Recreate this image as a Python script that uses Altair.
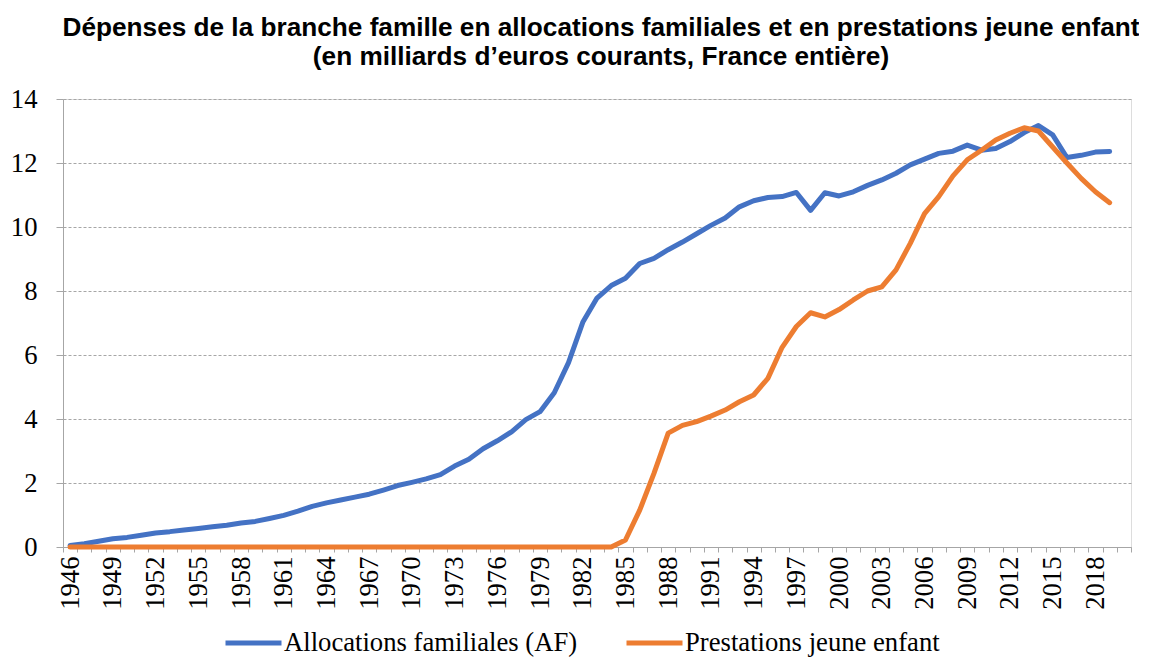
import altair as alt
import pandas as pd

years = list(range(1946, 2020))

af = [0.05, 0.10, 0.18, 0.26, 0.30, 0.37, 0.44, 0.48, 0.53, 0.58,
      0.63, 0.68, 0.75, 0.80, 0.89, 0.99, 1.12, 1.27, 1.38, 1.47,
      1.56, 1.65, 1.78, 1.92, 2.02, 2.13, 2.26, 2.53, 2.74, 3.07,
      3.32, 3.60, 3.98, 4.23, 4.82, 5.76, 7.02, 7.78, 8.17, 8.40,
      8.86, 9.02, 9.29, 9.53, 9.79, 10.05, 10.28, 10.63, 10.82, 10.92,
      10.95, 11.08, 10.52, 11.07, 10.97, 11.10, 11.30, 11.47, 11.68, 11.94,
      12.12, 12.30, 12.37, 12.56, 12.40, 12.45, 12.67, 12.95, 13.17, 12.88,
      12.17, 12.24, 12.34, 12.36]

pje = [0.0] * 39 + [
    0.22, 1.15, 2.30, 3.56, 3.80, 3.92, 4.09, 4.28, 4.54, 4.75,
    5.27, 6.24, 6.89, 7.32, 7.19, 7.42, 7.72, 8.00, 8.13, 8.66,
    9.49, 10.42, 10.95, 11.60, 12.10, 12.40, 12.72, 12.93, 13.10, 13.00,
    12.50, 12.00, 11.52, 11.10, 10.76]

series_names = ["Allocations familiales (AF)", "Prestations jeune enfant"]
series_colors = ["#4472C4", "#ED7D31"]
y_ticks = [0, 2, 4, 6, 8, 10, 12, 14]

title_lines = [
    "Dépenses de la branche famille en allocations familiales et en prestations jeune enfant",
    "(en milliards d\u2019euros courants, France entière)",
]

rows = []
for name, vals in zip(series_names, [af, pje]):
    for yr, v in zip(years, vals):
        rows.append({"year": yr, "value": v, "series": name})
df = pd.DataFrame(rows)

W, H = 1068, 448
x_min = years[0] - 0.5
x_max = years[-1] + 1.5
n_cat = int(x_max - x_min)
band = W / n_cat
boundaries = [y - 0.5 for y in years] + [years[-1] + 0.5, years[-1] + 1.5]

label_expr = ("((datum.value + 0.5 - %d) %% 3 == 0) && datum.value < %d "
              "? '' + (datum.value + 0.5) : ''") % (years[0], years[-1])

axis_gray = "#A6A6A6"

chart = alt.Chart(df).mark_line(
    strokeWidth=5, strokeJoin="round", strokeCap="round"
).encode(
    x=alt.X(
        "year:Q",
        scale=alt.Scale(domain=[x_min, x_max], nice=False, zero=False),
        axis=alt.Axis(
            values=boundaries, labelExpr=label_expr, labelAngle=270,
            labelOffset=band / 2, grid=False, title=None,
            domainColor=axis_gray, tickColor=axis_gray, tickSize=5,
            labelFont="Liberation Serif", labelFontSize=26.67, labelColor="black",
            labelPadding=4, labelOverlap=False, labelBound=False, labelFlush=False,
        ),
    ),
    y=alt.Y(
        "value:Q",
        scale=alt.Scale(domain=[0, 14], nice=False),
        axis=alt.Axis(
            values=y_ticks, grid=True, gridDash=[3, 2], gridColor=axis_gray,
            gridWidth=1, domainColor=axis_gray, tickColor=axis_gray, tickSize=7,
            labelFont="Liberation Serif", labelFontSize=26.67, labelColor="black",
            labelPadding=19, title=None, labelOverlap=False,
        ),
    ),
    color=alt.Color(
        "series:N",
        scale=alt.Scale(domain=series_names, range=series_colors),
        legend=alt.Legend(
            orient="none", legendX=160, legendY=513, direction="horizontal",
            title=None, symbolType="stroke", symbolSize=3136, symbolStrokeWidth=5,
            labelFont="Liberation Serif", labelFontSize=26.67, labelColor="black",
            labelLimit=600, columnPadding=38, labelOffset=0, padding=0,
        ),
    ),
    order=alt.Order("series:N"),
).properties(
    width=W,
    height=H,
    autosize=alt.AutoSizeParams(type="none"),
    padding={"left": 55, "top": 91, "right": 8, "bottom": 113},
    title=alt.TitleParams(
        text=title_lines, font="Liberation Sans", fontSize=26.2, fontWeight="bold",
        color="black", anchor="middle", offset=16, lineHeight=29, dx=4,
    ),
).configure_view(stroke=None).configure(background="white")

chart.save("out.html", embed_options={"renderer": "svg", "actions": False})
